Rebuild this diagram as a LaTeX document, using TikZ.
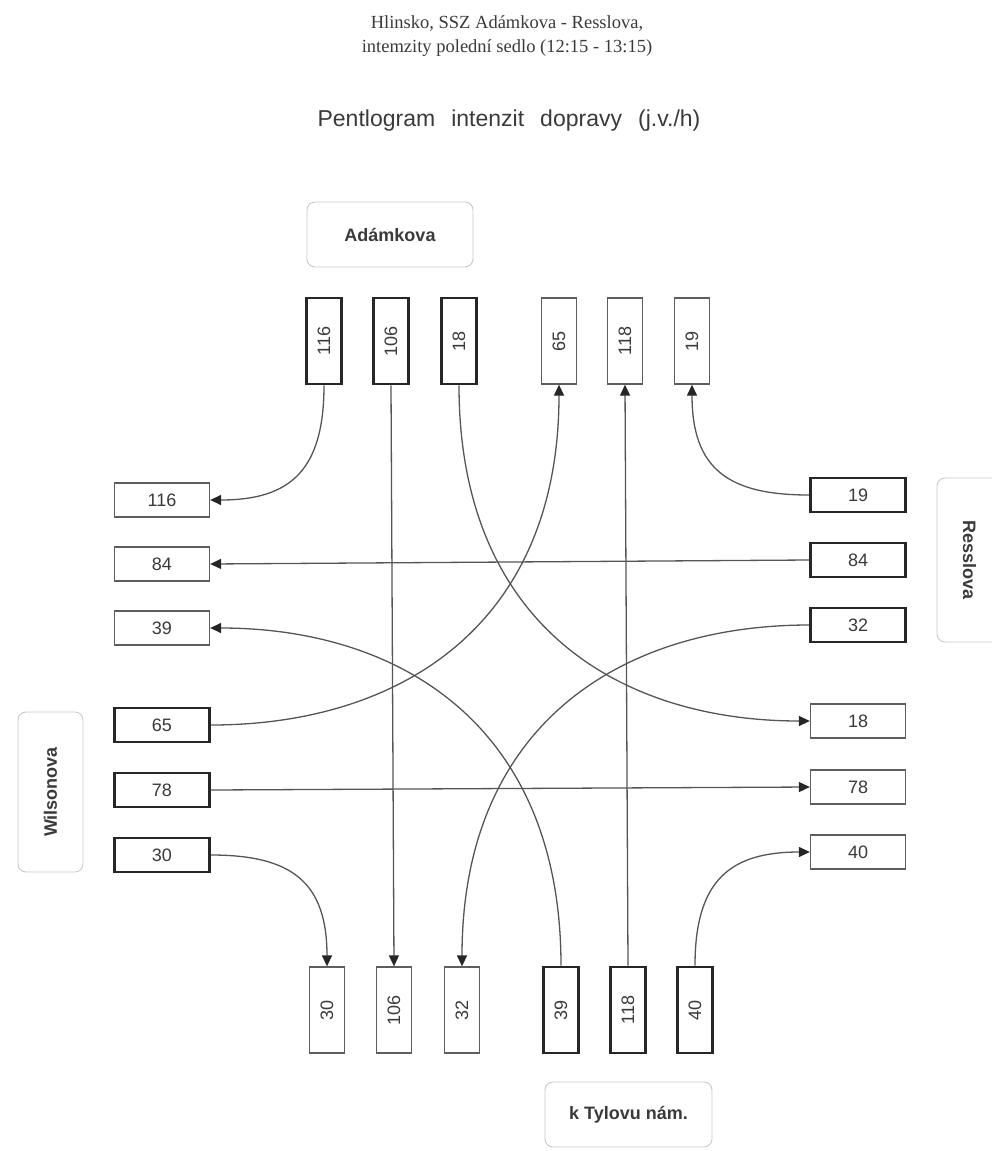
\documentclass[tikz,border=0pt]{standalone}
\usepackage{fontspec}
\setmainfont{Liberation Serif}
\setsansfont{Liberation Sans}
\usetikzlibrary{arrows.meta}

\definecolor{ink}{HTML}{3A3A3A}
\definecolor{wire}{HTML}{555555}
\definecolor{tip}{HTML}{262626}
\definecolor{heavy}{HTML}{262626}
\definecolor{light}{HTML}{5E5E5E}
\definecolor{soft}{HTML}{C8C8C8}

\tikzset{
  flow/.style={draw=wire, line width=1.3pt,
    -{Triangle[length=11pt,width=10pt,color=tip]}},
  numtext/.style={text=ink, font=\sffamily\fontsize{18}{20}\selectfont, inner sep=0pt, fill=white},
  hbox/.style={numtext, minimum width=95pt, minimum height=34pt},
  vbox/.style={numtext, minimum width=35pt, minimum height=86pt},
  srcbox/.style={draw=heavy, line width=2.8pt},
  dstbox/.style={draw=light, line width=1.3pt},
  street/.style={draw=soft, line width=0.9pt, rounded corners=8pt, text=ink,
    font=\sffamily\bfseries\fontsize{18}{21}\selectfont, inner sep=0pt},
}

\newcommand{\vnum}[1]{\rotatebox{90}{#1}}

\begin{document}
\begin{tikzpicture}[x=1pt,y=1pt]
\useasboundingbox (0,0) rectangle (991,-1151);

% headings
\node[font=\fontsize{18.5}{24}\selectfont, text=ink, align=center] (head)
  at (507,-36) {Hlinsko, SSZ Adámkova - Resslova,\\intemzity polední sedlo (12:15 - 13:15)};
\node[font=\sffamily\fontsize{23}{26}\selectfont, text=ink] (title)
  at (509,-121) {Pentlogram\hspace{0.7em}intenzit\hspace{0.7em}dopravy\hspace{0.7em}(j.v./h)};

% street names
\node[street, minimum width=166pt, minimum height=65pt] (adam) at (390,-234.5) {Adámkova};
\node[street, minimum width=65pt, minimum height=160pt] (wils) at (50.5,-792) {\rotatebox{90}{Wilsonova}};
\node[street, minimum width=65pt, minimum height=164pt] (ress) at (969.5,-560) {\rotatebox{-90}{Resslova}};
\node[street, minimum width=167pt, minimum height=65pt] (tyl) at (628.5,-1114.5) {k Tylovu nám.};

% top arm
\node[vbox, srcbox] (t116) at (324,-341) {\vnum{116}};
\node[vbox, srcbox] (t106) at (391,-341) {\vnum{106}};
\node[vbox, srcbox] (t18)  at (459,-341) {\vnum{18}};
\node[vbox, dstbox] (t65)  at (559,-341) {\vnum{65}};
\node[vbox, dstbox] (t118) at (625,-341) {\vnum{118}};
\node[vbox, dstbox] (t19)  at (692,-341) {\vnum{19}};

% bottom arm
\node[vbox, dstbox] (b30)  at (327,-1010) {\vnum{30}};
\node[vbox, dstbox] (b106) at (394,-1010) {\vnum{106}};
\node[vbox, dstbox] (b32)  at (462,-1010) {\vnum{32}};
\node[vbox, srcbox] (b39)  at (561,-1010) {\vnum{39}};
\node[vbox, srcbox] (b118) at (628,-1010) {\vnum{118}};
\node[vbox, srcbox] (b40)  at (695,-1010) {\vnum{40}};

% left arm
\node[hbox, dstbox] (l116) at (162,-500) {116};
\node[hbox, dstbox] (l84)  at (162,-564) {84};
\node[hbox, dstbox] (l39)  at (162,-628) {39};
\node[hbox, srcbox] (l65)  at (162,-725) {65};
\node[hbox, srcbox] (l78)  at (162,-790) {78};
\node[hbox, srcbox] (l30)  at (162,-855) {30};

% right arm
\node[hbox, srcbox] (r19)  at (858,-495) {19};
\node[hbox, srcbox] (r84)  at (858,-560) {84};
\node[hbox, srcbox] (r32)  at (858,-625) {32};
\node[hbox, dstbox] (r18)  at (858,-721) {18};
\node[hbox, dstbox] (r78)  at (858,-787) {78};
\node[hbox, dstbox] (r40)  at (858,-852) {40};

% straight movements
\draw[flow] (t106.south) -- (b106.north);
\draw[flow] (b118.north) -- (t118.south);
\draw[flow] (r84.west) -- (l84.east);
\draw[flow] (l78.east) -- (r78.west);

% right turns
\draw[flow] (t116.south) .. controls +(0,-85) and +(80,0) .. (l116.east);
\draw[flow] (r19.west) .. controls +(-80,0) and +(0,-85) .. (t19.south);
\draw[flow] (l30.east) .. controls +(80,0) and +(0,85) .. (b30.north);
\draw[flow] (b40.north) .. controls +(0,85) and +(-80,0) .. (r40.west);

% left turns
\draw[flow] (t18.south) .. controls +(0,-240) and +(-190,0) .. (r18.west);
\draw[flow] (l65.east) .. controls +(190,0) and +(0,-240) .. (t65.south);
\draw[flow] (b39.north) .. controls +(0,240) and +(190,0) .. (l39.east);
\draw[flow] (r32.west) .. controls +(-190,0) and +(0,240) .. (b32.north);
\end{tikzpicture}
\end{document}
